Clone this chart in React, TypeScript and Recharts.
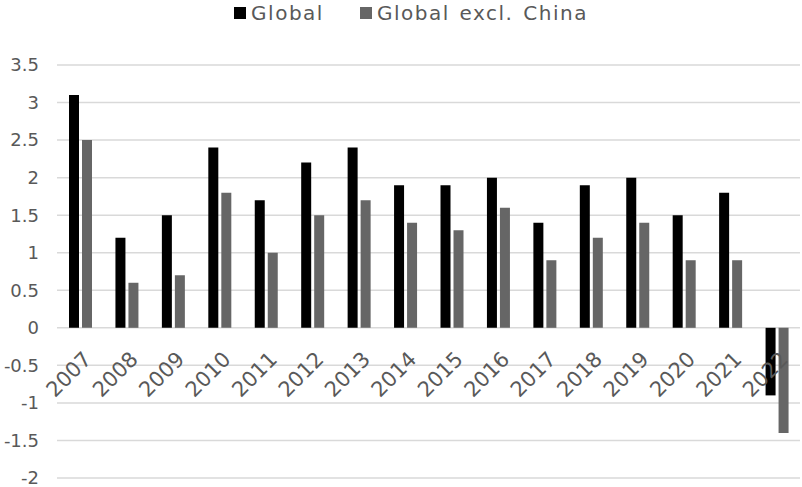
import React from 'react';
import { BarChart, Bar, XAxis, YAxis, CartesianGrid, Legend, Text } from 'recharts';

const years = ['2007','2008','2009','2010','2011','2012','2013','2014','2015','2016','2017','2018','2019','2020','2021','2022'];
const globalVals = [3.1, 1.2, 1.5, 2.4, 1.7, 2.2, 2.4, 1.9, 1.9, 2.0, 1.4, 1.9, 2.0, 1.5, 1.8, -0.9];
const exChinaVals = [2.5, 0.6, 0.7, 1.8, 1.0, 1.5, 1.7, 1.4, 1.3, 1.6, 0.9, 1.2, 1.4, 0.9, 0.9, -1.4];
const yTicks = [-2, -1.5, -1, -0.5, 0, 0.5, 1, 1.5, 2, 2.5, 3, 3.5];

const data = years.map((y, i) => ({ year: y, global: globalVals[i], exChina: exChinaVals[i] }));

const FONT = '"DejaVu Sans", sans-serif';
const TXT = '#595959';

// x labels sit on the zero line, not at the bottom of the plot
const ZERO_SHIFT = 128;

function YearTick(props: any) {
  const { x, y, payload } = props;
  return (
    <Text x={x + 2} y={y - ZERO_SHIFT} angle={-45} textAnchor="end" verticalAnchor="start"
      fill={TXT} fontSize={21} fontFamily={FONT}>{payload.value}</Text>
  );
}

function LegendBox() {
  const items = [{ c: '#000000', t: 'Global' }, { c: '#666666', t: 'Global excl. China' }];
  return (
    <div style={{ display: 'flex', justifyContent: 'center', gap: 36, paddingLeft: 20, fontFamily: FONT, fontSize: 20,
      letterSpacing: 1.5, wordSpacing: 2, color: TXT, lineHeight: '26px' }}>
      {items.map(it => (
        <span key={it.t} style={{ display: 'flex', alignItems: 'center' }}>
          <span style={{ display: 'inline-block', width: 12, height: 12, background: it.c, marginRight: 5 }} />
          {it.t}
        </span>
      ))}
    </div>
  );
}

export default function App() {
  return (
    <div style={{ position: 'absolute', left: 0, top: 0, width: 802, height: 487, background: '#fff' }}>
      <BarChart width={802} height={487} data={data} margin={{ top: 39, right: 2, bottom: 8, left: 0 }}
        barCategoryGap="25%" barGap={3}>
        <Legend verticalAlign="top" content={() => <LegendBox />} wrapperStyle={{ top: 0, left: 0, width: 802 }} />
        <CartesianGrid vertical={false} stroke="#d9d9d9" strokeWidth={1.5} />
        <XAxis dataKey="year" axisLine={false} tickLine={false} height={1} tickSize={0} tickMargin={0} interval={0} tick={<YearTick />} />
        <YAxis width={57} domain={[-2, 3.5]} ticks={yTicks} axisLine={false} tickLine={false} tickMargin={12}
          interval={0} tick={{ fill: TXT, fontSize: 18, fontFamily: FONT }} />
        <Bar dataKey="global" fill="#000000" barSize={10} isAnimationActive={false} />
        <Bar dataKey="exChina" fill="#666666" barSize={10} isAnimationActive={false} />
      </BarChart>
    </div>
  );
}
